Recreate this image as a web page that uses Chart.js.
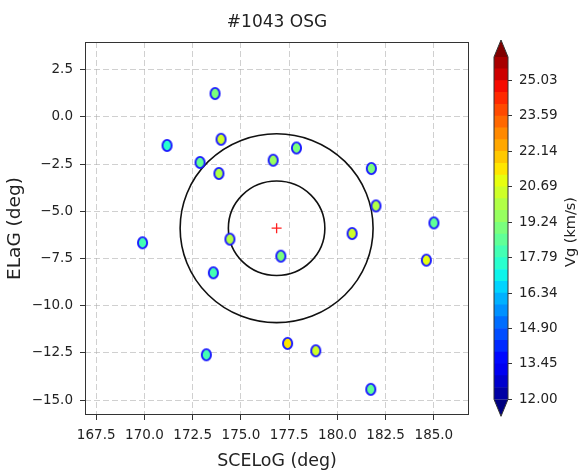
<!DOCTYPE html>
<html>
<head>
<meta charset="utf-8">
<script src="https://cdn.jsdelivr.net/npm/chart.js@4"></script>
<style>
html, body { margin: 0; padding: 0; background: #fff; }
#wrap { position: relative; width: 585px; height: 473px; }
#main { position: absolute; left: 0; top: 0; }
#cbar { position: absolute; left: 480px; top: 0; }
</style>
</head>
<body>
<div id="wrap">
  <canvas id="main" width="585" height="473" style="width:585px;height:473px"></canvas>
  <canvas id="cbar" width="105" height="473" style="width:105px;height:473px"></canvas>
</div>
<script>
// data
const lon = [173.66, 173.97, 171.17, 172.88, 173.86, 176.67, 177.88, 181.76, 182.0, 185.0,
             169.9, 174.43, 173.57, 173.21, 177.07, 180.76, 184.61, 177.42, 178.88, 181.73];
const lat = [1.23, -1.19, -1.52, -2.42, -3.0, -2.3, -1.65, -2.74, -4.72, -5.62,
             -6.67, -6.48, -8.26, -12.6, -7.38, -6.18, -7.59, -12.0, -12.39, -14.43];
const vg  = [19.0, 20.4, 17.5, 18.6, 20.1, 19.6, 19.0, 18.9, 19.9, 18.6,
             18.2, 20.0, 18.0, 18.1, 18.8, 20.4, 21.0, 21.5, 20.6, 18.7];
const center = { lon: 176.85, lat: -5.9 };
const ringRadii = [2.5, 5];

const xTicks = [167.5, 170.0, 172.5, 175.0, 177.5, 180.0, 182.5, 185.0];
const yTicks = [2.5, 0.0, -2.5, -5.0, -7.5, -10.0, -12.5, -15.0];
const cbTicks = [12.00, 13.45, 14.90, 16.34, 17.79, 19.24, 20.69, 22.14, 23.59, 25.03];
const cbMin = 12, cbMax = 26, cbBands = 29;

Chart.defaults.font.family = "'DejaVu Sans', sans-serif";
Chart.defaults.color = '#222';

// jet colormap (matplotlib segment data)
const jetSeg = {
  r: [[0, 0], [0.35, 0], [0.66, 1], [0.89, 1], [1, 0.5]],
  g: [[0, 0], [0.125, 0], [0.375, 1], [0.64, 1], [0.91, 0], [1, 0]],
  b: [[0, 0.5], [0.11, 1], [0.34, 1], [0.65, 0], [1, 0]]
};
function interp(seg, f) {
  for (let i = 1; i < seg.length; i++) {
    if (f <= seg[i][0]) {
      const [x0, y0] = seg[i - 1], [x1, y1] = seg[i];
      return y0 + (y1 - y0) * (f - x0) / (x1 - x0);
    }
  }
  return seg[seg.length - 1][1];
}
function jet(f) {
  const c = k => Math.round(255 * interp(jetSeg[k], f));
  return `rgb(${c('r')},${c('g')},${c('b')})`;
}
const bandW = (cbMax - cbMin) / cbBands;
function bandColor(b) { return jet(Math.floor((b + 1) * 255 / (cbBands + 1)) / 255); }
function vgColor(v) {
  if (v < cbMin) return jet(0);
  if (v >= cbMax) return jet(1);
  return bandColor(Math.floor((v - cbMin) / bandW));
}

// oval markers with blue edge
const markerCache = {};
function marker(color) {
  if (markerCache[color]) return markerCache[color];
  const c = document.createElement('canvas');
  c.width = 13; c.height = 15;
  const g = c.getContext('2d');
  g.beginPath();
  g.ellipse(6.5, 7.5, 4.6, 5.6, 0, 0, Math.PI * 2);
  g.fillStyle = color; g.fill();
  g.lineWidth = 1.9; g.strokeStyle = '#1a1aff'; g.stroke();
  markerCache[color] = c;
  return c;
}

const fmt = (v, d) => Number(v).toFixed(d).replace('-', '\u2212');

const ringPlugin = {
  id: 'rings',
  beforeDatasetsDraw(chart) {
    const { ctx, chartArea: a, scales: { x, y } } = chart;
    ctx.save();
    ctx.beginPath();
    ctx.rect(a.left, a.top, a.right - a.left, a.bottom - a.top);
    ctx.clip();
    const cx = x.getPixelForValue(center.lon), cy = y.getPixelForValue(center.lat);
    ctx.strokeStyle = '#111';
    ctx.lineWidth = 1.6;
    ringRadii.forEach(r => {
      const rx = x.getPixelForValue(center.lon + r) - cx;
      const ry = cy - y.getPixelForValue(center.lat + r);
      ctx.beginPath();
      ctx.ellipse(cx, cy, rx, ry, 0, 0, Math.PI * 2);
      ctx.stroke();
    });
    ctx.restore();
  },
  afterDraw(chart) {
    const { ctx, chartArea: a } = chart;
    ctx.save();
    ctx.strokeStyle = '#333';
    ctx.lineWidth = 1;
    ctx.strokeRect(a.left + 0.5, a.top + 0.5, a.right - a.left - 1, a.bottom - a.top - 1);
    ctx.restore();
  }
};

const gridOpts = {
  color: 'rgba(170,170,170,0.55)', lineWidth: 1, borderDash: [6, 3],
  tickColor: '#333', tickLength: 5, tickWidth: 1, tickBorderDash: []
};

new Chart(document.getElementById('main'), {
  type: 'scatter',
  data: {
    datasets: [{
      data: lon.map((v, i) => ({ x: v, y: lat[i] })),
      pointStyle: ctx => marker(vgColor(vg[ctx.dataIndex])),
      pointRadius: 6
    }, {
      data: [{ x: center.lon, y: center.lat }],
      pointStyle: 'cross', pointRadius: 5, borderColor: '#ff2020', borderWidth: 1.3
    }]
  },
  options: {
    responsive: false,
    animation: false,
    layout: { padding: { left: 0, right: 116, top: 0, bottom: 0 } },
    plugins: {
      legend: { display: false },
      tooltip: { enabled: false },
      title: {
        display: true, text: '#1043 OSG', fullSize: false, color: '#222',
        font: { size: 17, weight: 'normal' }, padding: { top: 12, bottom: 9.6 }
      }
    },
    scales: {
      x: {
        type: 'linear', min: 166.92, max: 186.82,
        afterBuildTicks: s => { s.ticks = xTicks.map(v => ({ value: v })); },
        afterFit: s => { s.height = 58; },
        ticks: { font: { size: 13.5 }, color: '#222', padding: 7, maxRotation: 0, autoSkip: false,
                 callback: v => fmt(v, 1) },
        grid: gridOpts,
        border: { display: false, dash: [6, 3] },
        title: { display: true, text: 'SCELoG (deg)', color: '#222', font: { size: 17.4 },
                 padding: { top: 0, bottom: 1.5 } }
      },
      y: {
        type: 'linear', min: -15.79, max: 3.96,
        afterBuildTicks: s => { s.ticks = yTicks.map(v => ({ value: v })); },
        afterFit: s => { s.width = 85; },
        ticks: { font: { size: 13.5 }, color: '#222', padding: 7, autoSkip: false,
                 callback: v => fmt(v, 1) },
        grid: gridOpts,
        border: { display: false, dash: [6, 3] },
        title: { display: true, text: 'ELaG (deg)', color: '#222', font: { size: 18.5 },
                 padding: { top: 4, bottom: 0 } }
      }
    }
  },
  plugins: [ringPlugin]
});

// colorbar
const bandEdges = [];
for (let i = 0; i <= cbBands; i++) bandEdges.push(cbMin + i * bandW);

const cbPlugin = {
  id: 'cbExtras',
  afterDatasetsDraw(chart) {
    const { ctx, chartArea: a } = chart;
    const ext = 17;
    const mid = (a.left + a.right) / 2;
    ctx.save();
    ctx.beginPath();
    ctx.moveTo(a.left, a.top); ctx.lineTo(mid, a.top - ext); ctx.lineTo(a.right, a.top);
    ctx.closePath();
    ctx.fillStyle = jet(1); ctx.fill();
    ctx.beginPath();
    ctx.moveTo(a.left, a.bottom); ctx.lineTo(mid, a.bottom + ext); ctx.lineTo(a.right, a.bottom);
    ctx.closePath();
    ctx.fillStyle = jet(0); ctx.fill();

    ctx.beginPath();
    ctx.moveTo(a.left, a.top); ctx.lineTo(mid, a.top - ext); ctx.lineTo(a.right, a.top);
    ctx.lineTo(a.right, a.bottom); ctx.lineTo(mid, a.bottom + ext); ctx.lineTo(a.left, a.bottom);
    ctx.closePath();
    ctx.strokeStyle = '#333'; ctx.lineWidth = 1; ctx.stroke();

    ctx.translate(a.right + 63, 232);
    ctx.rotate(-Math.PI / 2);
    ctx.font = "14.5px 'DejaVu Sans', sans-serif";
    ctx.fillStyle = '#222';
    ctx.textAlign = 'center';
    ctx.textBaseline = 'middle';
    ctx.fillText('Vg (km/s)', 0, 0);
    ctx.restore();
  }
};

new Chart(document.getElementById('cbar'), {
  type: 'bar',
  data: {
    labels: [''],
    datasets: bandEdges.slice(0, -1).map((lo, i) => ({
      data: [[lo, bandEdges[i + 1]]],
      backgroundColor: bandColor(i),
      borderWidth: 0,
      grouped: false,
      barPercentage: 1,
      categoryPercentage: 1
    }))
  },
  options: {
    responsive: false,
    animation: false,
    layout: { padding: { left: 14, right: 0, top: 57, bottom: 73.7 } },
    plugins: { legend: { display: false }, tooltip: { enabled: false } },
    scales: {
      x: { display: false },
      y: {
        position: 'right', min: cbMin, max: cbMax,
        afterBuildTicks: s => { s.ticks = cbTicks.map(v => ({ value: v })); },
        afterFit: s => { s.width = 77; },
        ticks: { font: { size: 13.5 }, color: '#222', padding: 7, autoSkip: false,
                 callback: v => Number(v).toFixed(2) },
        grid: { drawOnChartArea: false, tickColor: '#333', tickLength: 4, tickWidth: 1 },
        border: { display: false }
      }
    }
  },
  plugins: [cbPlugin]
});
</script>
</body>
</html>
